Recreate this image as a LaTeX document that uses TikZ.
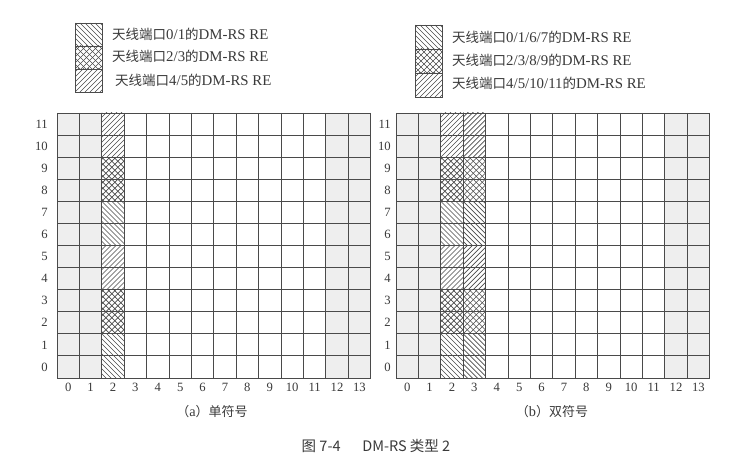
\documentclass[tikz,border=0pt]{standalone}
\usepackage{fontspec}
\setmainfont{Liberation Serif}[Scale=1.1]
\newfontfamily\cjk{Noto Sans CJK SC}
\definecolor{ln}{HTML}{4A4A4A}
\definecolor{txt}{HTML}{3A3A3A}
\definecolor{sh}{HTML}{EEEEEE}
\tikzset{
  gridline/.style={draw=ln, line width=0.9pt},
  hatch/.style={draw=ln, line width=0.6pt},
  numlab/.style={text=txt, font=\fontsize{11.5}{13}\selectfont, inner sep=0pt},
  leglab/.style={text=txt, font=\fontsize{13.5}{15}\selectfont, anchor=west, inner sep=0pt},
  caplab/.style={text=txt, font=\fontsize{13}{15}\selectfont, inner sep=0pt}
}
% "\" hatch in rectangle x y w h
\newcommand\patBS[4]{%
  \begin{scope}\clip (#1,#2) rectangle ++(#3,#4);
  \foreach \t in {-60,-55,...,30} \draw[hatch] ({#1+(\t)},{#2}) -- ++(60,60);
  \end{scope}}
% "/" hatch
\newcommand\patFS[4]{%
  \begin{scope}\clip (#1,#2) rectangle ++(#3,#4);
  \foreach \t in {-60,-55,...,30} \draw[hatch] ({#1+(\t)},{#2+(#4)}) -- ++(60,-60);
  \end{scope}}
% cross hatch
\newcommand\patX[4]{%
  \begin{scope}\clip (#1,#2) rectangle ++(#3,#4);
  \foreach \t in {-60,-54,...,30} {
    \draw[hatch] ({#1+(\t)},{#2}) -- ++(60,60);
    \draw[hatch] ({#1+(\t)},{#2+(#4)}) -- ++(60,-60);}
  \end{scope}}
\def\cw{22.4}
\def\ch{22.08}
% panel: X0, Y0, last patterned column, name, row label offset
\newcommand\panel[5]{%
  \begin{scope}[shift={(#1,#2)}]
    \fill[sh] (0,0) rectangle ({2*\cw},{12*\ch});
    \fill[sh] ({12*\cw},0) rectangle ({14*\cw},{12*\ch});
    \foreach \c in {2,...,#3} {
      \pgfmathsetmacro\xx{\c*\cw}
      \patFS{\xx}{0}{\cw}{2*\ch}
      \patX{\xx}{2*\ch}{\cw}{2*\ch}
      \patBS{\xx}{4*\ch}{\cw}{2*\ch}
      \patFS{\xx}{6*\ch}{\cw}{2*\ch}
      \patX{\xx}{8*\ch}{\cw}{2*\ch}
      \patBS{\xx}{10*\ch}{\cw}{2*\ch}
    }
    \foreach \c in {0,...,14} \draw[gridline] ({\c*\cw},0) -- ({\c*\cw},{12*\ch});
    \foreach \r in {0,...,12} \draw[gridline] (0,{\r*\ch}) -- ({14*\cw},{\r*\ch});
    \foreach \r in {0,...,11} \node[numlab, anchor=east] (#4-r\r) at (#5,{(11.5-\r)*\ch}) {\r};
    \foreach \c in {0,...,13} \node[numlab] (#4-c\c) at ({(\c+0.5)*\cw},{12*\ch+9}) {\c};
  \end{scope}}
\begin{document}
\begin{tikzpicture}[x=1pt,y=-1pt]
\useasboundingbox (0,0) rectangle (753,468);
\fill[white] (0,0) rectangle (753,468);

\panel{57}{113}{2}{A}{-9}
\panel{396}{113}{3}{B}{-5}

% legend left
\patBS{75}{23}{27}{23}
\patX{75}{46}{27}{23}
\patFS{75}{69}{27}{23}
\draw[gridline] (75,23) rectangle (102,92);
\draw[gridline] (75,46) -- (102,46);
\draw[gridline] (75,69) -- (102,69);
\node[leglab] (LA1) at (112,34) {{\cjk 天线端口}0/1{\cjk 的}DM-RS RE};
\node[leglab] (LA2) at (112,56) {{\cjk 天线端口}2/3{\cjk 的}DM-RS RE};
\node[leglab] (LA3) at (115,80) {{\cjk 天线端口}4/5{\cjk 的}DM-RS RE};

% legend right
\patBS{415}{25}{27}{24}
\patX{415}{49}{27}{24}
\patFS{415}{73}{27}{24}
\draw[gridline] (415,25) rectangle (442,97);
\draw[gridline] (415,49) -- (442,49);
\draw[gridline] (415,73) -- (442,73);
\node[leglab] (LB1) at (452,37) {{\cjk 天线端口}0/1/6/7{\cjk 的}DM-RS RE};
\node[leglab] (LB2) at (452,60) {{\cjk 天线端口}2/3/8/9{\cjk 的}DM-RS RE};
\node[leglab] (LB3) at (452,83) {{\cjk 天线端口}4/5/10/11{\cjk 的}DM-RS RE};

% captions
\node[caplab] (capA) at (212,412) {{\cjk （}a{\cjk ）单符号}};
\node[caplab] (capB) at (552,412) {{\cjk （}b{\cjk ）双符号}};
\node[text=txt, font=\cjk\fontsize{14.5}{16}\selectfont, inner sep=0pt] (title) at (376,446) {图 7-4\hspace{1.5em}DM-RS 类型 2};
\end{tikzpicture}
\end{document}
